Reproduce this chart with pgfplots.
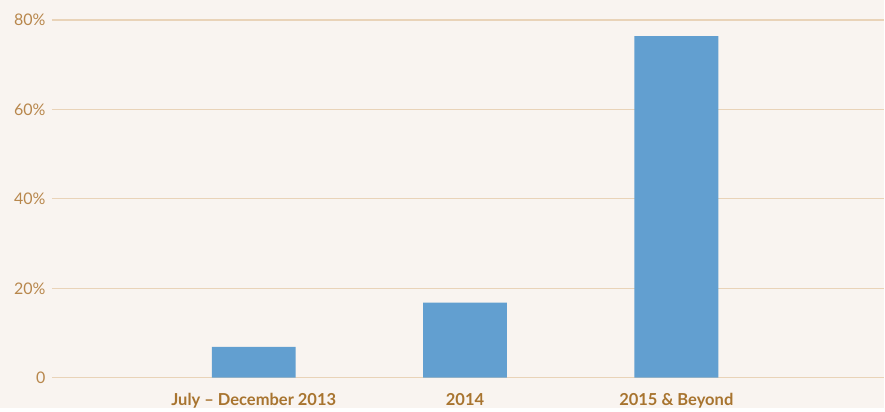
\documentclass[border=0pt]{standalone}
\usepackage{fontspec}
\setmainfont{Lato}
\usepackage{pgfplots}
\pgfplotsset{compat=1.18}
\usetikzlibrary{backgrounds,calc}
\definecolor{bgc}{HTML}{F9F4F0}
\definecolor{gridc}{HTML}{E9D3B8}
\definecolor{ylab}{HTML}{B8874C}
\definecolor{xlab}{HTML}{A8742F}
\definecolor{barc}{HTML}{629FD0}
\begin{document}
\begin{tikzpicture}
\begin{axis}[
  name=ax,
  scale only axis,
  width=833pt, height=358pt,
  xmin=-0.955, xmax=2.985, ymin=0, ymax=80,
  axis line style={draw=none},
  ybar, bar width=84pt,
  xtick={0,1,2},
  xticklabels={July -- December 2013, 2014, 2015 \& Beyond},
  ytick={0,20,40,60,80},
  yticklabels={0,20\%,40\%,60\%,80\%},
  xmajorgrids=false, ymajorgrids=true,
  major grid style={draw=gridc, line width=1.2pt},
  major tick length=0pt,
  tick style={draw=none},
  yticklabel style={font=\fontsize{16}{19}\selectfont, text=ylab, xshift=-3pt},
  xticklabel style={font=\bfseries\fontsize{16.5}{19}\selectfont, text=xlab, yshift=-12pt},
  clip=false,
]
\addplot[fill=barc, draw=none] coordinates {(0,6.9) (1,16.8) (2,76.4)};
\end{axis}
\begin{scope}[on background layer]
\fill[bgc] ($(ax.south west)+(-52pt,-30pt)$) rectangle ($(ax.north east)+(0,20pt)$);
\end{scope}
\end{tikzpicture}
\end{document}
